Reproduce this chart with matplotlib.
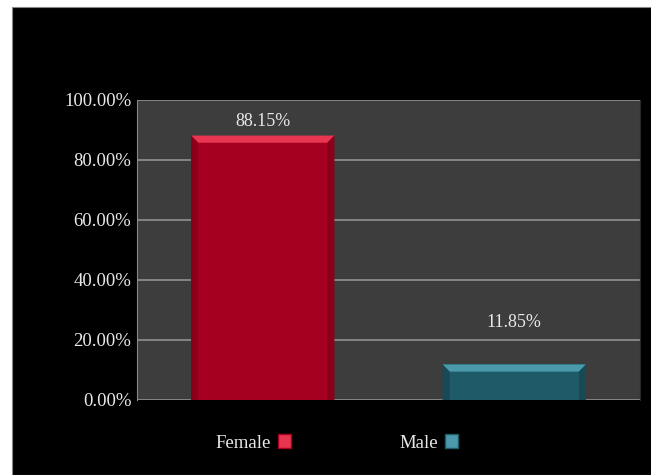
import matplotlib.pyplot as plt
from matplotlib.patches import Rectangle, Polygon, Patch

categories = ["Female", "Male"]
values = [88.15, 11.85]
labels = ["88.15%", "11.85%"]
yticks = [0, 20, 40, 60, 80, 100]

colors = ["#a50020", "#1f5a68"]
tops = ["#e83550", "#4a9aab"]
sides = ["#8a0018", "#184a56"]
label_offsets = [10, 30]  # points above bar top (label centre)

plt.rcParams['font.family'] = ['Liberation Serif', 'DejaVu Serif']

W, H = 651, 475
fig = plt.figure(figsize=(W / 100, H / 100), dpi=100, facecolor="white")
bg = Rectangle((12 / W, 0), 1, 1 - 7 / H, transform=fig.transFigure,
               facecolor="black", edgecolor="#888888", linewidth=0.8, zorder=-5)
fig.add_artist(bg)

ax = fig.add_axes([137 / W, 75 / H, 503 / W, 300 / H])
ax.set_zorder(2)
ax.set_facecolor("#3d3d3d")
ax.set_xlim(-0.5, 1.5)
ax.set_ylim(0, 100)

for y in yticks:
    ax.axhline(y, color="#8a8a8a", linewidth=1.3, zorder=1)

width = 0.57
x = list(range(len(categories)))
ax.bar(x, values, width=width, color=colors, zorder=2, edgecolor="none")

# bevel on top and sides
bx, by = 0.028, 2.4
for i, v in enumerate(values):
    l, r = x[i] - width / 2, x[i] + width / 2
    ax.add_patch(Polygon([(l, v), (r, v), (r - bx, v - by), (l + bx, v - by)],
                         closed=True, facecolor=tops[i], edgecolor="none", zorder=3))
    ax.add_patch(Polygon([(l, 0), (l, v), (l + bx, v - by), (l + bx, 0)],
                         closed=True, facecolor=sides[i], edgecolor="none", zorder=3))
    ax.add_patch(Polygon([(r, 0), (r, v), (r - bx, v - by), (r - bx, 0)],
                         closed=True, facecolor=sides[i], edgecolor="none", zorder=3))
    ax.annotate(labels[i], (x[i], v), xytext=(0, label_offsets[i]), textcoords="offset points",
                ha="center", va="center", color="#e8e8e8", fontsize=13)

ax.set_xticks([])
ax.set_yticks(yticks)
ax.set_yticklabels([f"{t:.2f}%" for t in yticks], color="#e8e8e8", fontsize=13.5)
ax.tick_params(axis="y", length=0, pad=4)
for s in ax.spines.values():
    s.set_visible(False)
ax.spines["left"].set_visible(True)
ax.spines["left"].set_color("#8a8a8a")
ax.spines["right"].set_visible(True)
ax.spines["right"].set_color("#2a2a2a")

handles = [Patch(facecolor=tops[i], edgecolor=colors[i], label=categories[i]) for i in range(len(categories))]
leg = ax.legend(handles=handles, loc="center", bbox_to_anchor=(337 / W, 1 - 443 / H),
                bbox_transform=fig.transFigure, ncol=2, frameon=False, markerfirst=False,
                handlelength=0.7, handleheight=0.7, handletextpad=0.35, columnspacing=5.8,
                fontsize=13.5)
for t in leg.get_texts():
    t.set_color("#e8e8e8")

fig.savefig("out.png", dpi=100, facecolor="white")
